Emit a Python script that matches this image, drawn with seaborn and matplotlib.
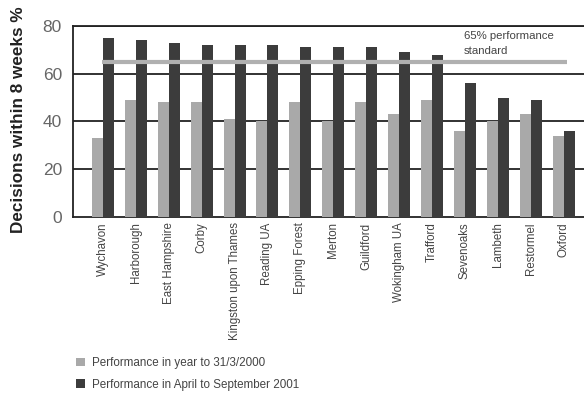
import matplotlib
matplotlib.use("Agg")
import matplotlib.pyplot as plt
import seaborn as sns
import pandas as pd
from matplotlib.patches import Patch

councils = ["Wychavon", "Harborough", "East Hampshire", "Corby", "Kingston upon Thames",
            "Reading UA", "Epping Forest", "Merton", "Guildford", "Wokingham UA",
            "Trafford", "Sevenoaks", "Lambeth", "Restormel", "Oxford"]
perf_2000 = [33, 49, 48, 48, 41, 40, 48, 40, 48, 43, 49, 36, 40, 43, 34]
perf_2001 = [75, 74, 73, 72, 72, 72, 71, 71, 71, 69, 68, 56, 50, 49, 36]
series = ["Performance in year to 31/3/2000", "Performance in April to September 2001"]
standard = 65
yticks = [0, 20, 40, 60, 80]

df = pd.DataFrame({
    "council": councils * 2,
    "value": perf_2000 + perf_2001,
    "series": [series[0]] * len(councils) + [series[1]] * len(councils),
})

sns.set_style("white")
plt.rcParams["font.family"] = ["Liberation Sans", "DejaVu Sans"]

fig = plt.figure(figsize=(5.84, 3.93), dpi=100)
ax = fig.add_axes([0.125, 0.448, 0.875, 0.486])

colors = ["#a9a9a9", "#3c3c3c"]
sns.barplot(data=df, x="council", y="value", hue="series", hue_order=series,
            order=councils, palette=colors, width=0.67, saturation=1,
            ax=ax, legend=False, zorder=3, linewidth=0)

for y in yticks[1:]:
    ax.axhline(y, color="#222222", lw=1.3, zorder=1)

ax.hlines(standard, -0.03, 14.1, color="#b0b0b0", lw=3, zorder=5)
ax.text(10.97, 72.6, "65% performance\nstandard", fontsize=8.2, color="#444444",
        va="center", ha="left", linespacing=1.7)

ax.set_xlim(-0.91, 14.62)
ax.set_ylim(0, 80)
ax.set_yticks(yticks)
ax.set_yticklabels([str(v) for v in yticks], fontsize=12.5, color="#666666")
ax.set_xticks(range(len(councils)))
ax.set_xticklabels(councils, rotation=90, fontsize=8.3, color="#444444")
ax.tick_params(axis="both", length=0, pad=4)
ax.tick_params(axis="y", pad=8)
ax.set_xlabel("")
ax.set_ylabel("Decisions within 8 weeks %", fontsize=12.3, fontweight="bold",
              color="#222222")
ax.yaxis.set_label_coords(-0.092, 0.51)

for s in ["left", "bottom", "top"]:
    ax.spines[s].set_visible(True)
    ax.spines[s].set_color("#222222")
    ax.spines[s].set_linewidth(1.3)
ax.spines["right"].set_visible(False)

handles = [Patch(facecolor=c, edgecolor="none") for c in colors]
fig.legend(handles, series, loc="upper left", bbox_to_anchor=(0.130, 0.092),
           frameon=False, fontsize=8.4, handlelength=0.75, handleheight=0.75,
           handletextpad=0.6, labelspacing=0.85, borderpad=0, borderaxespad=0,
           labelcolor="#444444")

fig.savefig("out.png", dpi=100)
